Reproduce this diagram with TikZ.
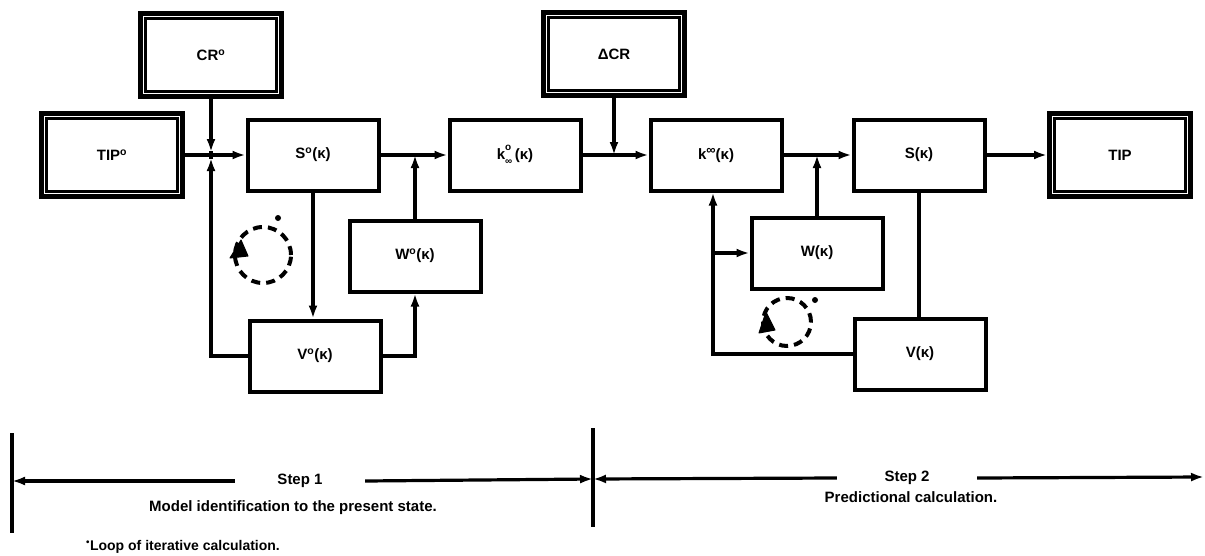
\documentclass[tikz,border=0pt]{standalone}
\usepackage{fontspec}
\setmainfont{Liberation Sans}
\usetikzlibrary{arrows.meta,calc}
\begin{document}
\begin{tikzpicture}[x=1pt,y=-1pt,
  box/.style={draw,line width=4pt,minimum width=131pt,minimum height=71pt,inner sep=0pt,font=\fontsize{15}{17}\selectfont\bfseries},
  dbox/.style={box,line width=5pt,minimum width=141pt,minimum height=83pt},
  inbox/.style={line width=2.8pt},
  conn/.style={line width=3.2pt},
  arr/.style={conn,-{Latex[length=13pt,width=9pt]}},
  lbl/.style={font=\fontsize{15}{17}\selectfont\bfseries,inner sep=0pt},
  loopc/.style={line width=4pt,dash pattern=on 9pt off 6pt}
]
\useasboundingbox (0,0) rectangle (1205,555);

% boxes
\node[dbox] (CR) at (211,55) {CR\textsuperscript{o}};
\node[dbox] (TIPo) at (112,155) {TIP\textsuperscript{o}};
\node[box] (So) at (313,155) {S\textsuperscript{o}(κ)};
\node[box] (Vo) at (315,356) {V\textsuperscript{o}(κ)};
\node[box] (Wo) at (415,256) {W\textsuperscript{o}(κ)};
\node[box] (ko) at (515,155) {k{\fontsize{10}{10}\selectfont\rlap{\raisebox{8.5pt}{o}}\raisebox{-5pt}{∞}}\,(κ)};
\node[dbox] (DCR) at (614,54) {ΔCR};
\node[box] (kinf) at (716,155) {k\raisebox{5pt}{\fontsize{13}{13}\selectfont ∞}(κ)};
\node[box] (W) at (817,253) {W(κ)};
\node[box] (S) at (919,155) {S(κ)};
\node[box] (V) at (920,354) {V(κ)};
\node[dbox] (TIP) at (1120,155) {TIP};

\foreach \n in {CR,TIPo,DCR,TIP}
  \draw[inbox] ([shift={(7.5pt,-7.5pt)}]\n.north west) rectangle ([shift={(-7.5pt,7.5pt)}]\n.south east);

% junction coordinates
\coordinate (j1) at (211,155);
\coordinate (c2) at (713,155);

% step 1 connectors
\draw[arr] (TIPo.east) -- (So.west);
\draw[arr] (CR.south) -- ([yshift=3pt]j1);
\draw[arr] (Vo.west) -| ([yshift=-3pt]j1);
\draw[conn] ([yshift=4pt]j1) -- ([yshift=-4pt]j1);
\draw[arr] (So.south) -- (So.south |- Vo.north);
\draw[arr] (Vo.east) -| (Wo.south);
\draw[arr] (Wo.north) -- (Wo.north |- So.east);
\draw[arr] (So.east) -- (ko.west);

% step 2 connectors
\draw[arr] (ko.east) -- (kinf.west);
\draw[arr] (DCR.south) -- (DCR.south |- ko.east);
\draw[arr] (kinf.east) -- (S.west);
\draw[arr] (S.east) -- (TIP.west);
\draw[arr] (V.west) -| (c2 |- kinf.south);
\draw[arr] (c2 |- W.west) -- (W.west);
\draw[arr] (W.north) -- (W.north |- S.west);
\draw[conn] (S.south) -- (S.south |- V.north);

% iteration loops
\draw[loopc] (263,255) circle[radius=28pt];
\fill[line join=round,line width=1pt,draw] (241,240) -- (248,256) -- (230,258) -- cycle;
\fill (278,218) circle[radius=3pt];
\draw[loopc] (787,322) circle[radius=24pt];
\fill[line join=round,line width=1pt,draw] (766,312) -- (775,330) -- (759,333) -- cycle;
\fill (815,300) circle[radius=3pt];

% bottom step bars
\coordinate (Lt) at (12,433); \coordinate (Lb) at (12,533);
\coordinate (Mt) at (593,428); \coordinate (Mb) at (593,527);
\draw[conn] (Lt) -- (Lb);
\draw[conn] (Mt) -- (Mb);
\coordinate (L) at (12,481);
\coordinate (M) at (593,479);
\coordinate (R) at (1204,477);
\node[lbl,minimum width=130pt] (st1) at (300,481) {Step 1};
\node[lbl,minimum width=140pt] (st2) at (907,478) {Step 2};
\draw[arr] (st1.west) -- (L);
\draw[arr] (st1.east) -- (M);
\draw[arr] (st2.west) -- (M);
\draw[arr] (st2.east) -- (R);
\node[lbl] (t1) at (293,508) {Model identification to the present state.};
\node[lbl] (t2) at (911,497) {Predictional calculation.};
\node[lbl,font=\fontsize{14}{16}\selectfont\bfseries] (t3) at (183,547) {\textsuperscript{•}Loop of iterative calculation.};
\end{tikzpicture}
\end{document}
